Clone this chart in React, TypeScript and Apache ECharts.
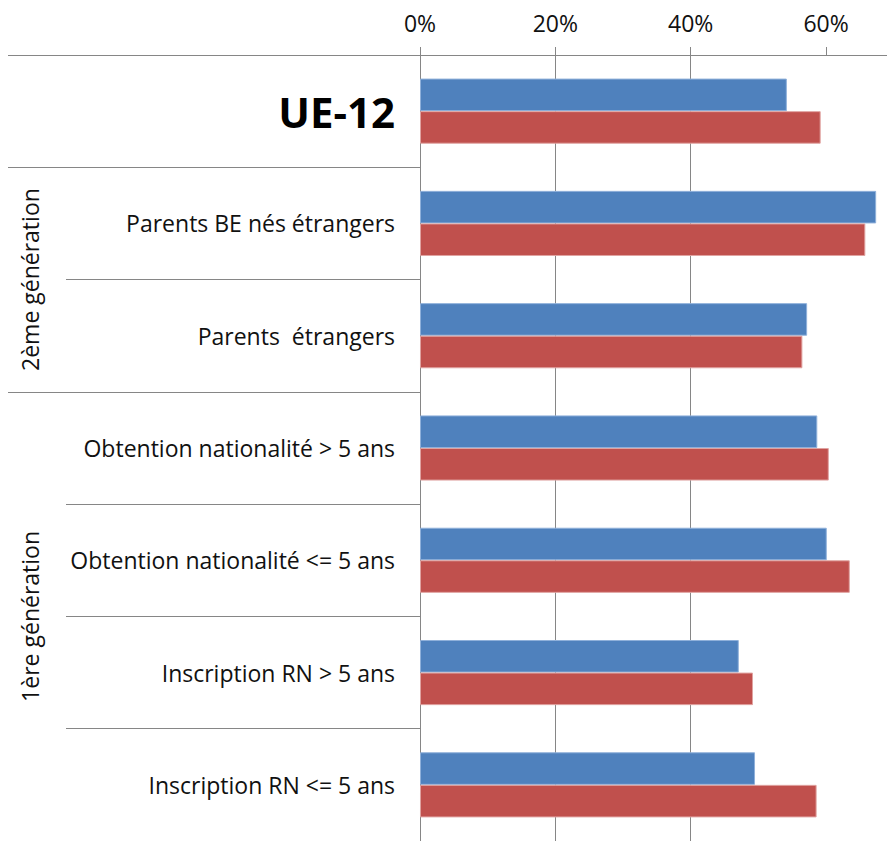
import React, { useEffect, useRef } from "react";
import * as echarts from "echarts";

const categories = [
  "UE-12",
  "Parents BE nés étrangers",
  "Parents  étrangers",
  "Obtention nationalité > 5 ans",
  "Obtention nationalité <= 5 ans",
  "Inscription RN > 5 ans",
  "Inscription RN <= 5 ans",
];
const seriesBlue = [0.542, 0.674, 0.572, 0.587, 0.601, 0.471, 0.495];
const seriesRed = [0.592, 0.658, 0.565, 0.604, 0.635, 0.492, 0.586];
const xTicks = [0, 0.2, 0.4, 0.6];
const groups = [
  { label: "2ème génération", from: 1, to: 2 },
  { label: "1ère génération", from: 3, to: 6 },
];
const longTickIdx = [0, 1, 3, 7];

const FONT = "Open Sans";
const FS = 23;

export default function App() {
  const ref = useRef<HTMLDivElement>(null);
  useEffect(() => {
    if (!ref.current) return;
    const chart = echarts.init(ref.current, undefined, { renderer: "svg" });
    const gray = "#868686";
    chart.setOption({
      animation: false,
      textStyle: { fontFamily: FONT },
      grid: { left: 420, right: 0, top: 55, height: 788 },
      xAxis: {
        type: "value",
        position: "top",
        min: 0,
        max: 0.69,
        interval: 0.2,
        axisLine: { show: true, lineStyle: { color: gray, width: 1 } },
        axisTick: { show: true, length: 8, customValues: xTicks, lineStyle: { color: gray } },
        splitLine: { show: true, showMaxLine: false, lineStyle: { color: gray, width: 1 } },
        axisLabel: {
          margin: 21,
          fontSize: FS,
          color: "#111",
          fontFamily: FONT,
          customValues: xTicks,
          formatter: (v: number) =>
            xTicks.some((t) => Math.abs(t - v) < 1e-6) ? Math.round(v * 100) + "%" : "",
        },
      },
      yAxis: [
        {
          type: "category",
          data: categories,
          inverse: true,
          axisLine: { show: true, lineStyle: { color: gray } },
          axisTick: { show: true, length: 354, lineStyle: { color: gray } },
          axisLabel: {
            margin: 25,
            fontSize: FS,
            color: "#111",
            fontFamily: FONT,
            formatter: (v: string) => (v === "UE-12" ? `{big|${v}}` : v),
            rich: {
              big: { fontSize: 42, fontWeight: "bold", color: "#000", fontFamily: FONT },
            },
          },
        },
        {
          type: "category",
          data: categories,
          inverse: true,
          position: "left",
          axisLine: { show: false },
          axisLabel: { show: false },
          axisTick: {
            show: true,
            length: 412,
            interval: (i: number) => longTickIdx.includes(i),
            lineStyle: { color: gray },
          },
        },
      ],
      series: [
        {
          type: "bar",
          data: seriesBlue,
          barGap: "0%",
          barCategoryGap: "42%",
          itemStyle: { color: "#4F81BD", borderColor: "#8fb0da", borderWidth: 1 },
        },
        {
          type: "bar",
          data: seriesRed,
          barGap: "0%",
          barCategoryGap: "42%",
          itemStyle: { color: "#C0504D", borderColor: "#e0a3a1", borderWidth: 1 },
        },
      ],
    });
    const graphics = groups.map((g) => {
      const yTop = chart.convertToPixel({ yAxisIndex: 0 }, categories[g.from]) as number;
      const yBot = chart.convertToPixel({ yAxisIndex: 0 }, categories[g.to]) as number;
      return {
        type: "text",
        x: 30,
        y: (yTop + yBot) / 2,
        rotation: Math.PI / 2,
        style: {
          text: g.label,
          fontSize: FS,
          fontFamily: FONT,
          fill: "#111",
          align: "center",
          verticalAlign: "middle",
        },
      };
    });
    chart.setOption({ graphic: graphics });
    return () => chart.dispose();
  }, []);
  return (
    <div
      ref={ref}
      style={{ position: "absolute", left: 0, top: 0, width: 887, height: 841 }}
    />
  );
}
